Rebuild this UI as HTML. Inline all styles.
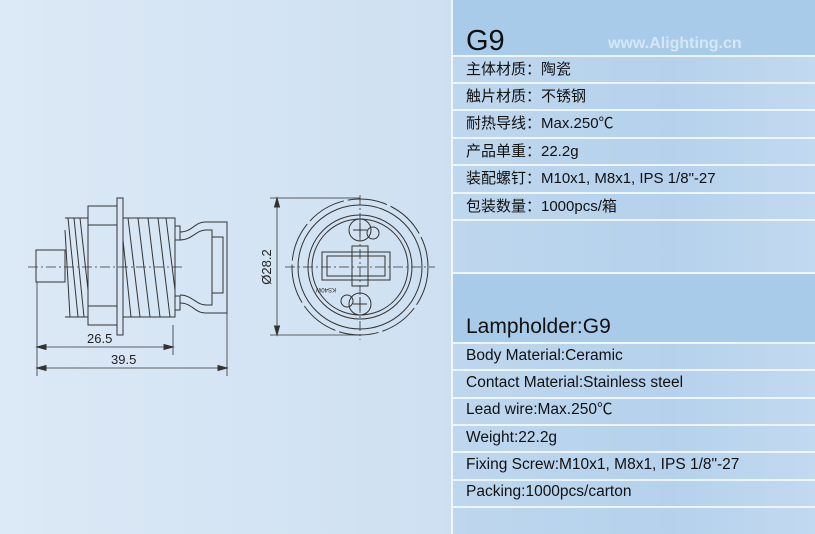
<!DOCTYPE html>
<html><head><meta charset="utf-8"><style>
*{margin:0;padding:0}
body{width:815px;height:534px;overflow:hidden;position:relative;font-family:"Liberation Sans","Noto Sans CJK SC",sans-serif;background:linear-gradient(90deg,#dce9f6 0%,#cfe1f2 50%,#bcd5ed 100%)}
#panel{position:absolute;left:451px;top:0;width:364px;height:534px;background:linear-gradient(90deg,#bed7ee,#b5d1ec 60%,#c2daf0);border-left:2px solid #eef5fc}
.band{position:absolute;left:0;width:364px;background:#a9cbea}
.ln{position:absolute;left:0;width:364px;height:2px;background:#eef5fc}
.t{position:absolute;left:13px;color:#111;white-space:nowrap;line-height:20px;height:20px}
.cn{font-size:15px}
.en{font-size:15.5px}
</style></head><body>
<svg width="450" height="534" style="position:absolute;left:0;top:0" fill="none" stroke="#333" stroke-width="1">
<line x1="28" y1="267" x2="185" y2="267" stroke-dasharray="10,3,2,3" stroke-width="0.8"/>
<rect x="36" y="250" width="29" height="32"/>
<rect x="88" y="206" width="29" height="119"/>
<line x1="88" y1="225" x2="117" y2="225"/><line x1="88" y1="306" x2="117" y2="306"/>
<rect x="117" y="198" width="6" height="137"/>
<path d="M65 218 H88 M65 317 H88"/>
<path d="M68 218 L78 317 M74 218 L84 317 M65 230 L70 317 M80 218 L88 290"/>
<path d="M123 218 H175 V317 H123"/>
<path d="M128 218 L140 317 M138 218 L150 317 M148 218 L160 317 M158 218 L170 317 M166 218 L175 290 M123 240 L131 317"/>
<rect x="175" y="226" width="5" height="14"/><rect x="175" y="296" width="5" height="14"/>
<path d="M180 232 C192 232 195 222 205 222 H227 V313 H205 C195 313 192 303 180 303"/>
<path d="M180 240 C192 240 196 230 206 230 H212 V305 H206 C196 305 192 295 180 295"/>
<rect x="212" y="237" width="11" height="56"/>
<path d="M37 282 V376 M173 325 V355 M227 313 V376" stroke-width="0.8"/>
<line x1="37" y1="347" x2="173" y2="347" stroke-width="0.8"/>
<line x1="37" y1="368" x2="227" y2="368" stroke-width="0.8"/>
<path d="M37 347 l9 -2.5 v5z M173 347 l-9 -2.5 v5z M37 368 l9 -2.5 v5z M227 368 l-9 -2.5 v5z" fill="#333"/>
<text x="87" y="343" font-size="13" fill="#222" stroke="none" font-family="Liberation Sans">26.5</text>
<text x="111" y="364" font-size="13" fill="#222" stroke="none" font-family="Liberation Sans">39.5</text>
<path d="M270 198 H360 M270 335 H360" stroke-width="0.8"/>
<line x1="277" y1="198" x2="277" y2="335" stroke-width="0.8"/>
<path d="M277 198 l-2.5 9 h5z M277 335 l-2.5 -9 h5z" fill="#333"/>
<text transform="translate(271,267) rotate(-90)" text-anchor="middle" font-size="13" fill="#222" stroke="none" font-family="Liberation Sans">Ø28.2</text>
<line x1="285" y1="267" x2="435" y2="267" stroke-dasharray="10,3,2,3" stroke-width="0.8"/>
<line x1="360" y1="195" x2="360" y2="340" stroke-dasharray="10,3,2,3" stroke-width="0.8"/>
<circle cx="360" cy="267" r="68" stroke-dasharray="40,4"/>
<circle cx="360" cy="267" r="62"/>
<circle cx="360" cy="267" r="52"/>
<circle cx="360" cy="267" r="48"/>
<circle cx="360" cy="230" r="11"/><path d="M353 230 H367 M360 223 V237"/>
<circle cx="373" cy="233" r="6"/>
<circle cx="360" cy="304" r="11"/><path d="M353 304 H367 M360 297 V311"/>
<circle cx="347" cy="301" r="6"/>
<rect x="322" y="252" width="68" height="28"/>
<rect x="327" y="256" width="58" height="20"/>
<rect x="352" y="246" width="16" height="40"/>
<text x="350" y="294" font-size="6" fill="#222" stroke="none" transform="rotate(180 343 291)">KS40W</text>
</svg>
<div id="panel">
<div class="band" style="top:0;height:56px"></div>
<div class="band" style="top:273px;height:70px"></div>
<div class="ln" style="top:55px"></div><div class="ln" style="top:82px"></div><div class="ln" style="top:109px"></div><div class="ln" style="top:137px"></div><div class="ln" style="top:164px"></div><div class="ln" style="top:192px"></div><div class="ln" style="top:219px"></div>
<div class="ln" style="top:272px"></div><div class="ln" style="top:342px"></div><div class="ln" style="top:369px"></div><div class="ln" style="top:397px"></div><div class="ln" style="top:424px"></div><div class="ln" style="top:451px"></div><div class="ln" style="top:479px"></div><div class="ln" style="top:506px"></div>
<div class="t" style="top:26px;font-size:29px;line-height:30px;height:30px">G9</div>
<div class="t" style="left:155px;top:34px;font-size:16px;font-weight:bold;color:#d6e6f4">www.Alighting.cn</div>
<div class="t cn" style="top:60px">主体材质：陶瓷</div>
<div class="t cn" style="top:87px">触片材质：不锈钢</div>
<div class="t cn" style="top:114px">耐热导线：Max.250℃</div>
<div class="t cn" style="top:142px">产品单重：22.2g</div>
<div class="t cn" style="top:169px">装配螺钉：M10x1, M8x1, IPS 1/8"-27</div>
<div class="t cn" style="top:197px">包装数量：1000pcs/箱</div>
<div class="t" style="top:314px;font-size:21px;line-height:26px;height:26px">Lampholder:G9</div>
<div class="t en" style="top:346px">Body Material:Ceramic</div>
<div class="t en" style="top:373px">Contact Material:Stainless steel</div>
<div class="t en" style="top:400px">Lead wire:Max.250℃</div>
<div class="t en" style="top:428px">Weight:22.2g</div>
<div class="t en" style="top:455px">Fixing Screw:M10x1, M8x1, IPS 1/8"-27</div>
<div class="t en" style="top:482px">Packing:1000pcs/carton</div>
</div>
</body></html>
